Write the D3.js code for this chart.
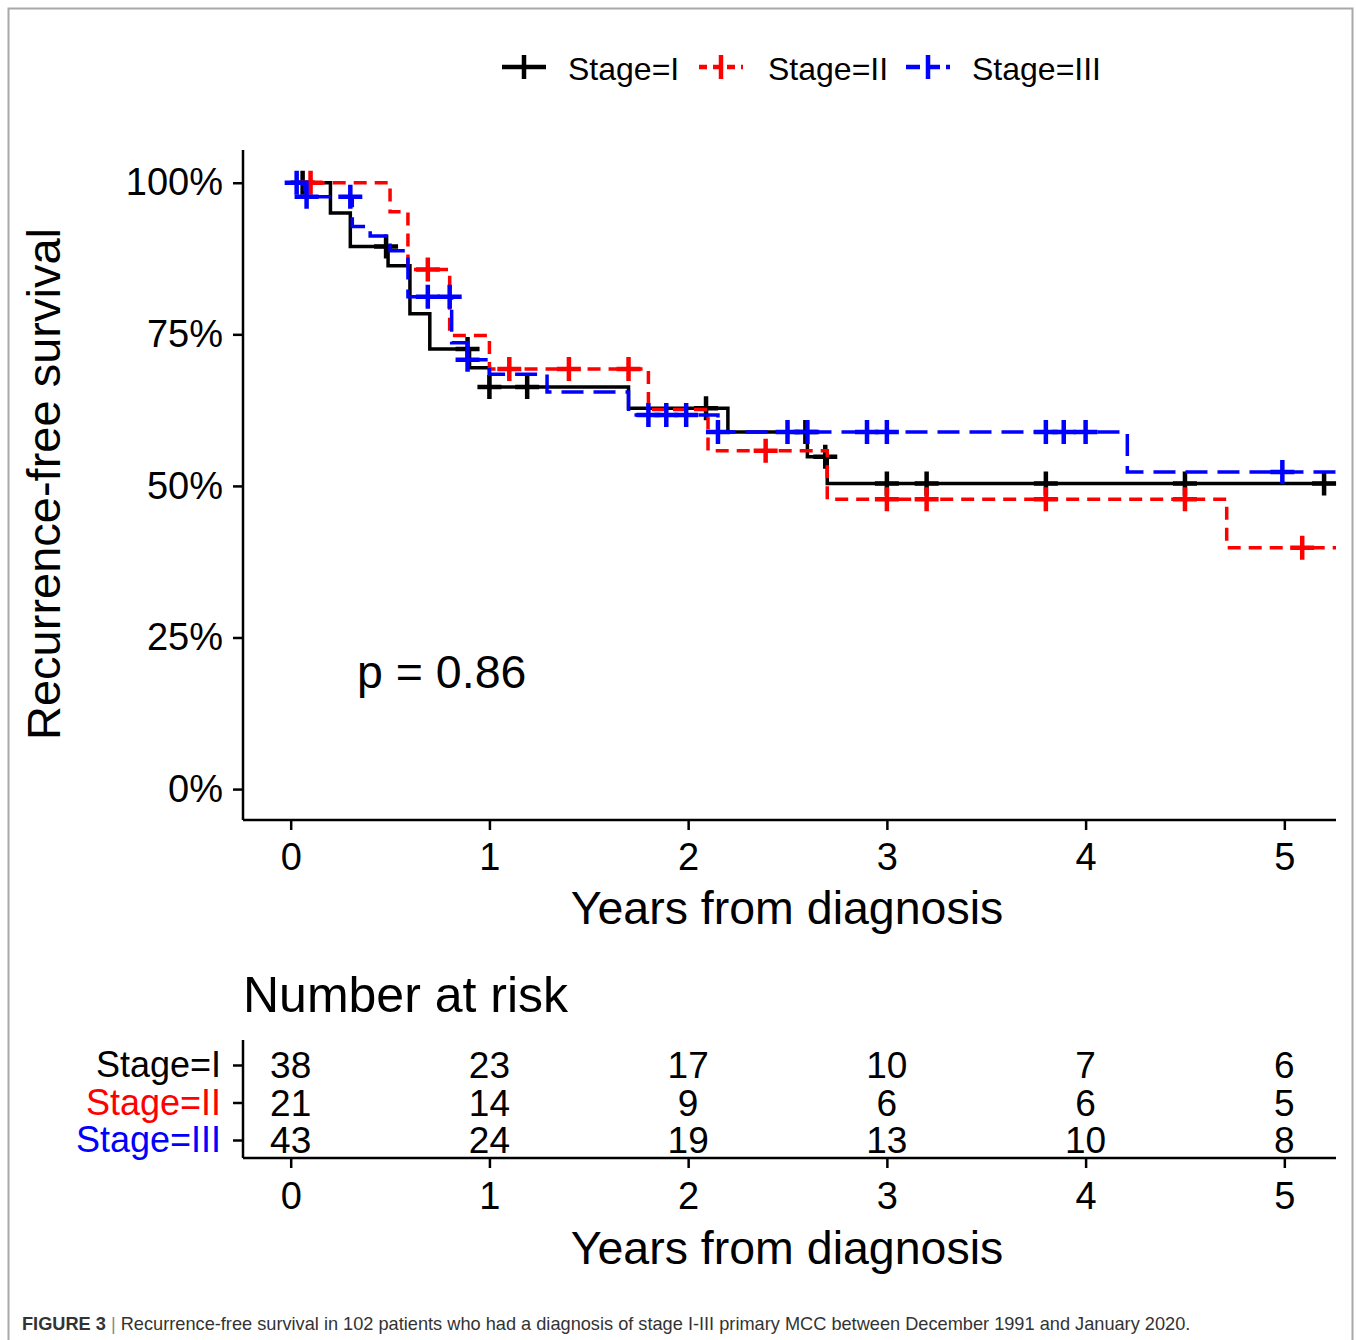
<!DOCTYPE html>
<html>
<head>
<meta charset="utf-8">
<script src="https://cdn.jsdelivr.net/npm/d3@7"></script>
<style>
  body { margin: 0; background: #fff; }
  svg text { font-family: "Liberation Sans", Arial, sans-serif; }
</style>
</head>
<body>
<div id="chart"></div>
<script>
// step times (years) and survival (%) per stage
var stageITimes = [0, 0.20, 0.30, 0.49, 0.60, 0.70, 0.90, 1.00, 1.70, 2.20, 2.60, 2.70, 5.26]
var stageISurv  = [100, 95.0, 89.5, 86.3, 78.4, 72.6, 69.5, 66.3, 62.8, 58.9, 54.8, 50.4, 50.4]
var stageICens  = [0.06, 0.48, 0.89, 1.00, 1.19, 2.09, 2.59, 2.69, 3.00, 3.20, 3.80, 4.50, 5.20]

var stageIITimes = [0, 0.50, 0.59, 0.80, 1.00, 1.80, 2.10, 2.70, 4.71, 5.26]
var stageIISurv  = [100, 95.2, 85.7, 74.8, 69.3, 62.6, 55.8, 47.8, 39.8, 39.8]
var stageIICens  = [0.10, 0.69, 1.10, 1.40, 1.70, 2.39, 3.00, 3.20, 3.80, 4.50, 5.09]

var stageIIITimes = [0, 0.07, 0.31, 0.40, 0.50, 0.59, 0.81, 0.89, 1.00, 1.29, 1.70, 2.15, 4.21, 5.26]
var stageIIISurv  = [100, 97.7, 92.8, 91.2, 88.8, 81.2, 73.6, 70.8, 68.4, 65.5, 61.7, 58.9, 52.3, 52.3]
var stageIIICens  = [0.03, 0.08, 0.30, 0.69, 0.80, 0.89, 1.80, 1.89, 1.99, 2.15, 2.50, 2.60, 2.90, 3.00, 3.80, 3.89, 4.00, 4.99]

var groups = ["Stage=I", "Stage=II", "Stage=III"]
var colors = ["#000000", "#ff0000", "#0000ff"]
var dashes = [null, "13,8", "22,10"]

var xTicks = [0, 1, 2, 3, 4, 5]
var yTicks = [0, 25, 50, 75, 100]

var riskI   = [38, 23, 17, 10, 7, 6]
var riskII  = [21, 14, 9, 6, 6, 5]
var riskIII = [43, 24, 19, 13, 10, 8]

var pText = "p = 0.86"
var caption = "Recurrence-free survival in 102 patients who had a diagnosis of stage I-III primary MCC between December 1991 and January 2020."

var series = [
  {times: stageITimes, surv: stageISurv, cens: stageICens},
  {times: stageIITimes, surv: stageIISurv, cens: stageIICens},
  {times: stageIIITimes, surv: stageIIISurv, cens: stageIIICens}
]
var risks = [riskI, riskII, riskIII]

var W = 1356, H = 1340
var svg = d3.select("#chart").append("svg")
  .attr("width", W).attr("height", H)

// frame
svg.append("path")
  .attr("d", "M8.5," + H + "V8.5H1352.5V" + H)
  .attr("fill", "none").attr("stroke", "#a8a8a8").attr("stroke-width", 2)

var x = d3.scaleLinear().domain([-0.24, 5.26]).range([243, 1336])
var y = d3.scaleLinear().domain([-5.1, 105.4]).range([820, 150])
var fmtX = d3.format("d")

function survAt(s, t) {
  var v = s.surv[0]
  for (var i = 0; i < s.times.length; i++) {
    if (s.times[i] <= t) v = s.surv[i]
  }
  return v
}

// axes
var yAxis = svg.append("g")
  .attr("transform", "translate(243,0)")
  .call(d3.axisLeft(y).tickValues(yTicks).tickSize(10).tickPadding(10)
    .tickFormat(function(d) { return d + "%" }))
var xAxis = svg.append("g")
  .attr("transform", "translate(0,820)")
  .call(d3.axisBottom(x).tickValues(xTicks).tickSize(10).tickPadding(13).tickFormat(fmtX))
;[yAxis, xAxis].forEach(function(a) {
  a.select(".domain").attr("stroke-width", 2.5)
  a.selectAll(".tick line").attr("stroke-width", 2.5)
  a.selectAll("text").attr("font-size", 38).attr("fill", "#000")
    .style("font-family", "Liberation Sans, Arial, sans-serif")
})
yAxis.select(".domain").attr("d", "M0,150V820")
xAxis.select(".domain").attr("d", "M243,0H1336")

svg.append("text")
  .attr("transform", "translate(60,484) rotate(-90)")
  .attr("text-anchor", "middle")
  .attr("font-size", 47)
  .text("Recurrence-free survival")
svg.append("text")
  .attr("x", 787).attr("y", 924)
  .attr("text-anchor", "middle")
  .attr("font-size", 46.5)
  .text("Years from diagnosis")

// curves
var line = d3.line().curve(d3.curveStepAfter)
  .x(function(d) { return x(d[0]) })
  .y(function(d) { return y(d[1]) })

series.forEach(function(s, g) {
  var pts = s.times.map(function(t, i) { return [t, s.surv[i]] })
  svg.append("path")
    .datum(pts)
    .attr("fill", "none")
    .attr("stroke", colors[g])
    .attr("stroke-width", 3.5)
    .attr("stroke-dasharray", dashes[g])
    .attr("d", line)
  var cg = svg.append("g")
  s.cens.forEach(function(t) {
    var cx = x(t), cy = y(survAt(s, t))
    cg.append("path")
      .attr("d", "M" + (cx - 12) + "," + cy + "H" + (cx + 12) + "M" + cx + "," + (cy - 12) + "V" + (cy + 12))
      .attr("stroke", colors[g]).attr("stroke-width", 4.5)
  })
})

svg.append("text")
  .attr("x", 357).attr("y", 688)
  .attr("font-size", 46.5)
  .text(pText)

// legend
var legX = [502, 699, 906], legTx = [568, 768, 972]
groups.forEach(function(g, i) {
  var lg = svg.append("g")
  lg.append("line")
    .attr("x1", legX[i]).attr("x2", legX[i] + 44)
    .attr("y1", 67).attr("y2", 67)
    .attr("stroke", colors[i]).attr("stroke-width", 4.5)
    .attr("stroke-dasharray", i == 0 ? null : (i == 1 ? "8,6" : "14,6"))
  lg.append("path")
    .attr("d", "M" + (legX[i] + 22) + ",55V79")
    .attr("stroke", colors[i]).attr("stroke-width", 4.5)
  lg.append("text")
    .attr("x", legTx[i]).attr("y", 80)
    .attr("font-size", 32)
    .text(g)
})

// risk table
svg.append("text")
  .attr("x", 243).attr("y", 1012)
  .attr("font-size", 50)
  .text("Number at risk")

var rowY = d3.scalePoint().domain(groups).range([1065, 1140])
var tAxis = svg.append("g")
  .attr("transform", "translate(243,0)")
  .call(d3.axisLeft(rowY).tickSize(10).tickPadding(12))
tAxis.select(".domain").attr("d", "M0,1040V1158").attr("stroke-width", 2.5)
tAxis.selectAll(".tick line").attr("stroke-width", 2.5)
tAxis.selectAll("text")
  .attr("font-size", 36)
  .attr("fill", function(d, i) { return colors[i] })
  .style("font-family", "Liberation Sans, Arial, sans-serif")

var bAxis = svg.append("g")
  .attr("transform", "translate(0,1158)")
  .call(d3.axisBottom(x).tickValues(xTicks).tickSize(10).tickPadding(14).tickFormat(fmtX))
bAxis.select(".domain").attr("d", "M243,0H1336").attr("stroke-width", 2.5)
bAxis.selectAll(".tick line").attr("stroke-width", 2.5)
bAxis.selectAll("text").attr("font-size", 38).attr("fill", "#000")
  .style("font-family", "Liberation Sans, Arial, sans-serif")

risks.forEach(function(r, g) {
  svg.append("g").selectAll("text")
    .data(r).enter().append("text")
    .attr("x", function(d, i) { return x(xTicks[i]) })
    .attr("y", rowY(groups[g]))
    .attr("dy", "0.36em")
    .attr("text-anchor", "middle")
    .attr("font-size", 37)
    .text(function(d) { return d })
})

svg.append("text")
  .attr("x", 787).attr("y", 1264)
  .attr("text-anchor", "middle")
  .attr("font-size", 46.5)
  .text("Years from diagnosis")

// caption
var cap = svg.append("text")
  .attr("x", 22).attr("y", 1330)
  .attr("font-size", 18.2)
  .attr("fill", "#333")
cap.append("tspan").attr("font-weight", "bold").text("FIGURE 3")
cap.append("tspan").attr("fill", "#888").text(" | ")
cap.append("tspan").text(caption)
</script>
</body>
</html>
